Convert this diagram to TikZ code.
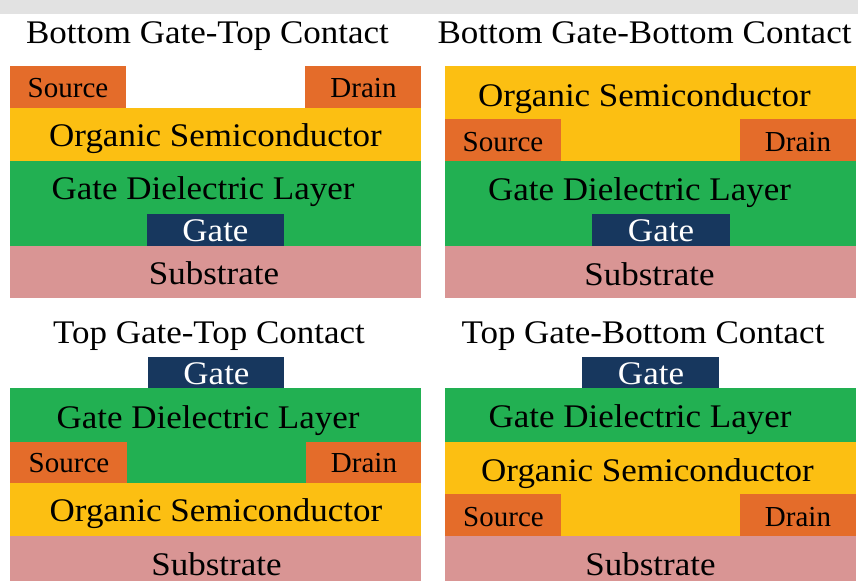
\documentclass[tikz,border=0pt]{standalone}
\usepackage{fontspec}
\setmainfont{Liberation Serif}
\newfontfamily\widefont{Liberation Serif}[FakeStretch=1.06]
\definecolor{srcdrn}{HTML}{E46C2A}
\definecolor{semic}{HTML}{FCBF12}
\definecolor{dielec}{HTML}{22B052}
\definecolor{gatec}{HTML}{17375E}
\definecolor{substr}{HTML}{D99594}
\definecolor{band}{HTML}{E2E2E2}
\tikzset{
  contact/.style={fill=srcdrn},
  osclayer/.style={fill=semic},
  diellayer/.style={fill=dielec},
  gatelayer/.style={fill=gatec},
  sublayer/.style={fill=substr},
  lbl/.style={anchor=base, inner sep=0pt, text=black},
  title/.style={lbl, font=\widefont\fontsize{33}{36}\selectfont},
  biglbl/.style={lbl, font=\widefont\fontsize{33}{36}\selectfont},
  gatelbl/.style={biglbl, text=white},
  smalllbl/.style={lbl, font=\fontsize{29}{32}\selectfont},
}
\begin{document}
\begin{tikzpicture}[x=1pt, y=-1pt]
\useasboundingbox (0,0) rectangle (858,581);
\fill[white] (0,0) rectangle (858,581);
\fill[band] (0,0) rectangle (858,14);

% ---- Bottom gate, top contact ----
\node[title] (t1) at (207.5,43) {Bottom Gate-Top Contact};
\fill[sublayer]  (10,246) rectangle (421,298);
\fill[diellayer] (10,161) rectangle (421,246);
\fill[gatelayer] (147,214) rectangle (284,246);
\fill[osclayer]  (10,108) rectangle (421,161);
\fill[contact]   (10,66) rectangle (126,108);
\fill[contact]   (305,66) rectangle (421,108);
\node[smalllbl] (s1) at (68,97.5) {Source};
\node[smalllbl] (d1) at (363.5,97.5) {Drain};
\node[biglbl] (o1) at (215.5,146) {Organic Semiconductor};
\node[biglbl] (g1) at (203,199) {Gate Dielectric Layer};
\node[gatelbl] (ga1) at (215.5,241) {Gate};
\node[biglbl] (su1) at (214,284.5) {Substrate};

% ---- Bottom gate, bottom contact ----
\node[title] (t2) at (644.5,43) {Bottom Gate-Bottom Contact};
\fill[sublayer]  (445,246) rectangle (856,298);
\fill[diellayer] (445,161) rectangle (856,246);
\fill[gatelayer] (592,214) rectangle (730,246);
\fill[osclayer]  (445,66) rectangle (856,161);
\fill[contact]   (445,119) rectangle (561,161);
\fill[contact]   (740,119) rectangle (856,161);
\node[biglbl] (o2) at (644.5,106.5) {Organic Semiconductor};
\node[smalllbl] (s2) at (503,151) {Source};
\node[smalllbl] (d2) at (798,151) {Drain};
\node[biglbl] (g2) at (639.5,200) {Gate Dielectric Layer};
\node[gatelbl] (ga2) at (661,241) {Gate};
\node[biglbl] (su2) at (649.5,285) {Substrate};

% ---- Top gate, top contact ----
\node[title] (t3) at (209,343) {Top Gate-Top Contact};
\fill[gatelayer] (148,357) rectangle (284,388);
\fill[diellayer] (10,388) rectangle (421,483);
\fill[contact]   (10,442) rectangle (127,483);
\fill[contact]   (306,442) rectangle (421,483);
\fill[osclayer]  (10,483) rectangle (421,536);
\fill[sublayer]  (10,536) rectangle (421,581);
\node[gatelbl] (ga3) at (216.5,384) {Gate};
\node[biglbl] (g3) at (208,428) {Gate Dielectric Layer};
\node[smalllbl] (s3) at (69,472.5) {Source};
\node[smalllbl] (d3) at (364,472.5) {Drain};
\node[biglbl] (o3) at (216,521.5) {Organic Semiconductor};
\node[biglbl] (su3) at (216.5,575) {Substrate};

% ---- Top gate, bottom contact ----
\node[title] (t4) at (643,343) {Top Gate-Bottom Contact};
\fill[gatelayer] (582,357) rectangle (719,388);
\fill[diellayer] (445,388) rectangle (856,442);
\fill[osclayer]  (445,442) rectangle (856,536);
\fill[contact]   (445,494) rectangle (561,536);
\fill[contact]   (740,494) rectangle (856,536);
\fill[sublayer]  (445,536) rectangle (856,581);
\node[gatelbl] (ga4) at (651,384) {Gate};
\node[biglbl] (g4) at (640,427) {Gate Dielectric Layer};
\node[biglbl] (o4) at (647.5,481.5) {Organic Semiconductor};
\node[smalllbl] (s4) at (503.5,526) {Source};
\node[smalllbl] (d4) at (798,526) {Drain};
\node[biglbl] (su4) at (650.5,575) {Substrate};
\end{tikzpicture}
\end{document}
